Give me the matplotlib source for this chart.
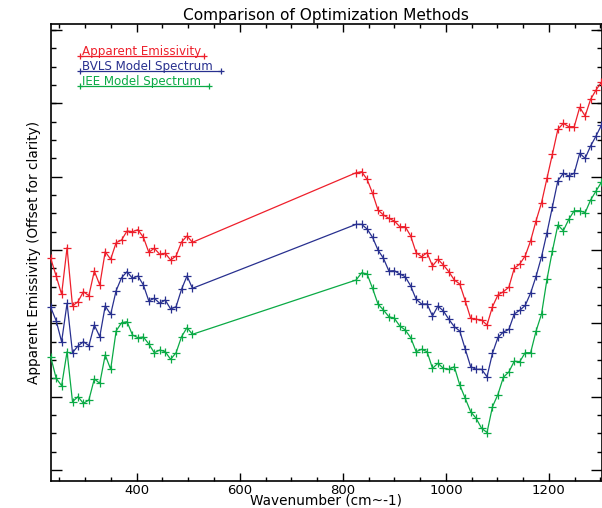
import matplotlib
matplotlib.use('Agg')
import matplotlib.pyplot as plt
from matplotlib.ticker import MultipleLocator

# TES-like channel wavenumbers (cm^-1); the CO2 band 508-826 is excluded
wavenumber = [233.08, 243.66, 254.24, 264.82, 275.40, 285.98, 296.56, 307.14, 317.72,
              328.30, 338.88, 349.46, 360.04, 370.62, 381.20, 391.78, 402.36, 412.94,
              423.52, 434.10, 444.68, 455.26, 465.84, 476.42, 487.00, 497.58, 508.16,
              825.92, 836.50, 847.08, 857.66, 868.24, 878.82, 889.40, 899.98, 910.56,
              921.14, 931.72, 942.30, 952.88, 963.46, 974.04, 984.62, 995.20, 1005.78,
              1016.36, 1026.94, 1037.52, 1048.10, 1058.68, 1069.26, 1079.84, 1090.42,
              1101.00, 1111.58, 1122.16, 1132.74, 1143.32, 1153.90, 1164.48, 1175.06,
              1185.64, 1196.22, 1206.80, 1217.38, 1227.96, 1238.54, 1249.12, 1259.70,
              1270.28, 1280.86, 1291.44, 1302.02]

# Values in offset (arbitrary) units
apparent_emissivity = [2.417, 2.24, 2.057, 2.523, 1.94, 1.983, 2.083, 2.043, 2.29, 2.15,
                       2.483, 2.407, 2.573, 2.60, 2.69, 2.683, 2.703, 2.627, 2.477, 2.517,
                       2.457, 2.467, 2.40, 2.44, 2.58, 2.64, 2.577,
                       3.273, 3.283, 3.207, 3.067, 2.90, 2.85, 2.817, 2.79, 2.733, 2.733,
                       2.64, 2.473, 2.433, 2.473, 2.34, 2.407, 2.35, 2.283, 2.20, 2.16,
                       1.993, 1.817, 1.807, 1.80, 1.75, 1.933, 2.05, 2.083, 2.127, 2.317,
                       2.36, 2.44, 2.593, 2.793, 2.973, 3.217, 3.46, 3.707, 3.767, 3.733,
                       3.733, 3.927, 3.84, 4.007, 4.10, 4.18]

bvls_model = [1.927, 1.793, 1.583, 1.967, 1.473, 1.54, 1.583, 1.543, 1.75, 1.633,
              1.94, 1.857, 2.093, 2.223, 2.283, 2.217, 2.24, 2.15, 1.99, 2.017,
              1.967, 2.00, 1.91, 1.933, 2.107, 2.24, 2.117,
              2.757, 2.757, 2.71, 2.627, 2.50, 2.417, 2.29, 2.293, 2.26, 2.233,
              2.14, 2.007, 1.96, 1.96, 1.84, 1.94, 1.89, 1.807, 1.733, 1.69,
              1.51, 1.333, 1.307, 1.307, 1.233, 1.467, 1.625, 1.68, 1.705, 1.86,
              1.897, 1.945, 2.07, 2.237, 2.433, 2.673, 2.933, 3.193, 3.267, 3.24,
              3.267, 3.467, 3.417, 3.54, 3.64, 3.75]

iee_model = [1.433, 1.217, 1.143, 1.483, 0.983, 1.033, 0.967, 1.00, 1.21, 1.167,
             1.45, 1.307, 1.69, 1.773, 1.783, 1.65, 1.623, 1.63, 1.56, 1.473,
             1.50, 1.483, 1.407, 1.473, 1.633, 1.723, 1.657,
             2.20, 2.273, 2.26, 2.117, 1.96, 1.90, 1.833, 1.817, 1.74, 1.70,
             1.623, 1.483, 1.507, 1.483, 1.317, 1.367, 1.317, 1.307, 1.333, 1.15,
             1.017, 0.883, 0.817, 0.717, 0.675, 0.933, 1.055, 1.227, 1.28, 1.388,
             1.383, 1.473, 1.473, 1.69, 1.86, 2.207, 2.493, 2.75, 2.693, 2.807,
             2.893, 2.893, 2.873, 3.00, 3.09, 3.18]

series_labels = ['Apparent Emissivity', 'BVLS Model Spectrum', 'IEE Model Spectrum']
series_colors = ['#ee1f2b', '#28308f', '#0aaa45']

W, H = 602, 508
fig = plt.figure(figsize=(W / 100, H / 100), dpi=100)
ax_l, ax_r, ax_t, ax_b = 50.7, 601.5, 24.3, 481.0
ax = fig.add_axes([ax_l / W, 1 - ax_b / H, (ax_r - ax_l) / W, (ax_b - ax_t) / H])

for ys, col in zip([apparent_emissivity, bvls_model, iee_model], series_colors):
    ax.plot(wavenumber, ys, color=col, lw=0.9, marker='+', ms=6, mew=0.9,
            clip_on=False, zorder=3)

ax.set_xlim(wavenumber[0], wavenumber[-1])
ax.set_ylim(0.19, 4.757)

ax.xaxis.set_major_locator(MultipleLocator(200))
ax.xaxis.set_minor_locator(MultipleLocator(50))
ax.yaxis.set_major_locator(MultipleLocator(0.73333, offset=0.30))
ax.yaxis.set_minor_locator(MultipleLocator(0.18333, offset=0.11667))
ax.set_yticklabels([])

ax.tick_params(axis='both', which='both', direction='in', top=True, right=True,
               width=1.0, color='black')
ax.xaxis.set_tick_params(which='major', length=6, labelsize=9.5, pad=2)
ax.xaxis.set_tick_params(which='minor', length=3)
ax.yaxis.set_tick_params(which='major', length=8)
ax.yaxis.set_tick_params(which='minor', length=3.6)
ax.tick_params(axis='y', labelleft=False)

for sp in ax.spines.values():
    sp.set_linewidth(1.2)

ax.set_title('Comparison of Optimization Methods', fontsize=11.1, pad=3)
ax.set_xlabel('Wavenumber (cm~-1)', fontsize=9.8, va='top')
ax.xaxis.set_label_coords(0.5, -(494 - ax_b) / (ax_b - ax_t))
ax.set_ylabel('Apparent Emissivity (Offset for clarity)', fontsize=9.8, va='center')
ax.yaxis.set_label_coords(-(ax_l - 34) / (ax_r - ax_l), 0.5)


def px2ax(px, py):
    return (px - ax_l) / (ax_r - ax_l), (ax_b - py) / (ax_b - ax_t)

# IDL-style legend: line with symbols under the text
leg_rows = [(56, 204), (71, 220.7), (86, 209)]
for (ly, lx1), lab, col in zip(leg_rows, series_labels, series_colors):
    x0, y0 = px2ax(80, ly)
    x1, _ = px2ax(lx1, ly)
    ax.plot([x0, x1], [y0, y0], transform=ax.transAxes, color=col, lw=0.9,
            marker='+', ms=5, mew=0.9, clip_on=False)
    tx, ty = px2ax(82, ly - 1)
    ax.text(tx, ty, lab, transform=ax.transAxes, color=col, fontsize=8.6,
            ha='left', va='baseline')

fig.savefig('out.png', dpi=100)
